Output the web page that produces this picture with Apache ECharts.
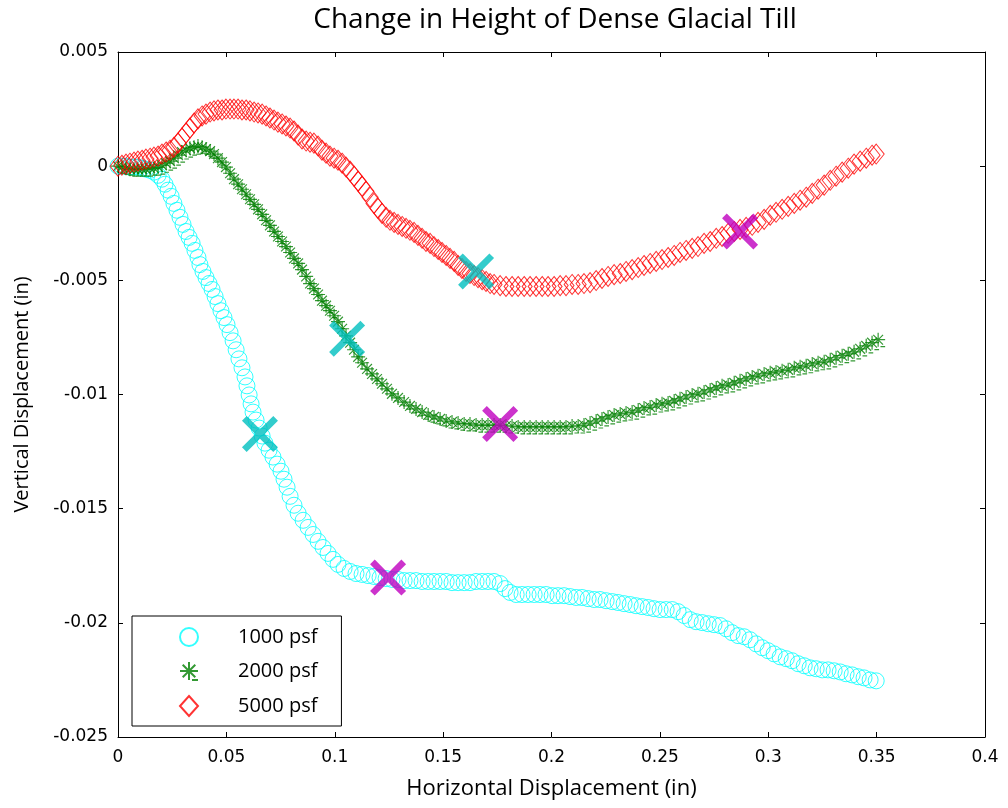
<!DOCTYPE html>
<html>
<head>
<meta charset="utf-8">
<script src="https://cdn.jsdelivr.net/npm/echarts@6/dist/echarts.min.js"></script>
<style>
html,body{margin:0;padding:0;background:#fff;}
#chart{width:1008px;height:808px;}
</style>
</head>
<body>
<div id="chart"></div>
<script>
// ---------- data ----------
const titleText = 'Change in Height of Dense Glacial Till';
const xAxisName = 'Horizontal Displacement (in)';
const yAxisName = 'Vertical Displacement (in)';
const seriesNames = ['1000 psf', '2000 psf', '5000 psf'];

const xTickLabels = ['0', '0.05', '0.1', '0.15', '0.2', '0.25', '0.3', '0.35', '0.4'];
const yTickLabels = ['-0.025', '-0.02', '-0.015', '-0.01', '-0.005', '0', '0.005'];

const x1000 = [0,0.0018,0.0037,0.0055,0.0074,0.0092,0.0111,0.0129,0.0148,0.0166,0.0185,0.0203,0.0217,0.0231,0.0245,0.0258,0.0272,0.0286,0.0300,0.0314,0.0328,0.0342,0.0355,0.0369,0.0378,0.0392,0.0406,0.0420,0.0434,0.0448,0.0461,0.0475,0.0489,0.0503,0.0517,0.0531,0.0545,0.0558,0.0572,0.0586,0.0595,0.0605,0.0614,0.0623,0.0637,0.0651,0.0665,0.0678,0.0697,0.0715,0.0734,0.0752,0.0766,0.0780,0.0794,0.0812,0.0831,0.0854,0.0877,0.0900,0.0923,0.0946,0.0969,0.0992,0.1015,0.1043,0.1071,0.1098,0.1126,0.1154,0.1181,0.1209,0.1237,0.1264,0.1292,0.1320,0.1347,0.1375,0.1403,0.1431,0.1458,0.1486,0.1514,0.1541,0.1569,0.1597,0.1624,0.1652,0.1680,0.1707,0.1735,0.1763,0.1786,0.1809,0.1837,0.1864,0.1892,0.1920,0.1947,0.1975,0.2003,0.2030,0.2058,0.2086,0.2114,0.2141,0.2169,0.2197,0.2224,0.2252,0.2280,0.2307,0.2335,0.2363,0.2390,0.2418,0.2446,0.2473,0.2501,0.2529,0.2557,0.2584,0.2612,0.2640,0.2667,0.2695,0.2723,0.2750,0.2778,0.2806,0.2833,0.2861,0.2889,0.2916,0.2944,0.2972,0.2999,0.3027,0.3055,0.3083,0.3110,0.3138,0.3166,0.3193,0.3221,0.3249,0.3276,0.3304,0.3332,0.3359,0.3387,0.3415,0.3442,0.3470,0.3498];
const y1000 = [0,0,0,-0.00004,-0.00004,-0.00004,-0.00009,-0.00013,-0.00018,-0.00026,-0.0004,-0.00057,-0.00079,-0.00105,-0.00132,-0.00163,-0.00193,-0.00224,-0.00255,-0.00286,-0.00312,-0.00338,-0.00369,-0.0040,-0.00431,-0.00461,-0.00488,-0.00514,-0.0054,-0.00571,-0.00602,-0.00633,-0.00663,-0.00694,-0.00729,-0.00765,-0.00804,-0.00844,-0.00883,-0.00923,-0.00962,-0.01002,-0.01041,-0.01077,-0.01112,-0.01147,-0.01182,-0.01213,-0.01244,-0.01274,-0.01305,-0.01336,-0.01371,-0.01406,-0.01446,-0.01485,-0.0152,-0.01551,-0.01582,-0.01613,-0.01643,-0.0167,-0.01696,-0.01722,-0.01744,-0.01762,-0.01775,-0.01784,-0.01788,-0.01793,-0.01797,-0.01802,-0.01806,-0.0181,-0.0181,-0.01815,-0.01815,-0.01815,-0.01819,-0.01819,-0.01819,-0.01819,-0.01819,-0.01824,-0.01824,-0.01824,-0.01824,-0.01819,-0.01819,-0.01819,-0.01819,-0.01828,-0.0185,-0.01867,-0.01876,-0.01876,-0.01876,-0.01876,-0.01876,-0.01876,-0.01881,-0.01881,-0.01881,-0.01885,-0.01889,-0.01889,-0.01894,-0.01898,-0.01898,-0.01903,-0.01907,-0.01911,-0.01916,-0.0192,-0.01925,-0.01929,-0.01933,-0.01938,-0.01942,-0.01942,-0.01942,-0.01951,-0.01968,-0.01986,-0.01995,-0.01999,-0.02004,-0.02008,-0.02012,-0.02026,-0.02043,-0.02056,-0.02061,-0.02074,-0.02092,-0.02109,-0.02122,-0.02136,-0.02149,-0.02157,-0.02166,-0.02179,-0.02188,-0.02197,-0.02201,-0.02206,-0.02206,-0.0221,-0.02215,-0.02223,-0.02228,-0.02236,-0.02241,-0.0225,-0.02254];

const x2000 = [0,0.0018,0.0037,0.0055,0.0074,0.0092,0.0111,0.0129,0.0148,0.0166,0.0185,0.0203,0.0222,0.0240,0.0258,0.0277,0.0295,0.0314,0.0332,0.0351,0.0369,0.0388,0.0406,0.0425,0.0443,0.0461,0.0480,0.0498,0.0517,0.0535,0.0554,0.0572,0.0591,0.0609,0.0628,0.0646,0.0665,0.0683,0.0701,0.0720,0.0738,0.0757,0.0775,0.0794,0.0812,0.0831,0.0849,0.0868,0.0886,0.0904,0.0923,0.0941,0.0960,0.0978,0.0997,0.1015,0.1034,0.1052,0.1071,0.1089,0.1108,0.1126,0.1149,0.1172,0.1195,0.1218,0.1241,0.1264,0.1292,0.1320,0.1347,0.1375,0.1403,0.1431,0.1458,0.1486,0.1514,0.1541,0.1569,0.1597,0.1624,0.1652,0.1680,0.1707,0.1735,0.1763,0.1790,0.1818,0.1846,0.1874,0.1901,0.1929,0.1957,0.1984,0.2012,0.2040,0.2067,0.2095,0.2123,0.2150,0.2178,0.2206,0.2233,0.2261,0.2289,0.2317,0.2344,0.2372,0.2400,0.2427,0.2455,0.2483,0.2510,0.2538,0.2566,0.2593,0.2621,0.2649,0.2676,0.2704,0.2732,0.2760,0.2787,0.2815,0.2843,0.2870,0.2898,0.2926,0.2953,0.2981,0.3009,0.3036,0.3064,0.3092,0.3120,0.3147,0.3175,0.3203,0.3230,0.3258,0.3286,0.3313,0.3341,0.3369,0.3396,0.3424,0.3452,0.3479,0.3507];
const y2000 = [0,-0.00004,-0.00009,-0.00013,-0.00013,-0.00013,-0.00013,-0.00013,-0.00009,-0.00009,-0.00004,0.00004,0.00013,0.00022,0.00035,0.00048,0.00062,0.0007,0.00079,0.00083,0.00088,0.00083,0.00075,0.00066,0.00053,0.00035,0.00018,-0.00004,-0.00031,-0.00057,-0.00079,-0.00101,-0.00123,-0.00145,-0.00167,-0.00189,-0.00211,-0.00237,-0.00259,-0.00286,-0.00308,-0.0033,-0.00352,-0.00378,-0.00404,-0.00426,-0.00453,-0.00483,-0.00514,-0.00536,-0.00562,-0.00589,-0.00611,-0.00633,-0.00655,-0.00681,-0.00712,-0.00743,-0.00773,-0.00804,-0.00835,-0.00861,-0.00888,-0.0091,-0.00932,-0.00953,-0.00975,-0.00997,-0.01015,-0.01033,-0.0105,-0.01063,-0.01077,-0.0109,-0.01098,-0.01107,-0.01116,-0.0112,-0.01125,-0.01129,-0.01129,-0.01134,-0.01134,-0.01134,-0.01134,-0.01134,-0.01138,-0.01138,-0.01142,-0.01142,-0.01142,-0.01142,-0.01142,-0.01142,-0.01142,-0.01142,-0.01142,-0.01138,-0.01138,-0.01134,-0.01125,-0.01116,-0.01107,-0.01098,-0.0109,-0.01085,-0.01081,-0.01077,-0.01068,-0.01059,-0.01055,-0.01046,-0.01041,-0.01037,-0.01028,-0.01019,-0.01011,-0.01002,-0.00997,-0.00989,-0.0098,-0.00971,-0.00962,-0.00958,-0.00949,-0.0094,-0.00932,-0.00923,-0.00918,-0.0091,-0.00905,-0.00901,-0.00896,-0.00892,-0.00883,-0.00879,-0.00874,-0.00866,-0.00861,-0.00857,-0.00848,-0.00839,-0.0083,-0.00822,-0.00813,-0.008,-0.00787,-0.00773,-0.0076];

const x5000 = [0,0.0018,0.0037,0.0055,0.0074,0.0092,0.0111,0.0129,0.0148,0.0166,0.0185,0.0203,0.0222,0.0240,0.0258,0.0277,0.0295,0.0314,0.0332,0.0351,0.0369,0.0388,0.0406,0.0425,0.0443,0.0461,0.0480,0.0498,0.0517,0.0535,0.0554,0.0572,0.0591,0.0609,0.0628,0.0646,0.0665,0.0683,0.0701,0.0720,0.0738,0.0757,0.0775,0.0794,0.0812,0.0831,0.0849,0.0868,0.0886,0.0904,0.0923,0.0941,0.0960,0.0978,0.0997,0.1015,0.1034,0.1052,0.1071,0.1089,0.1108,0.1126,0.1144,0.1163,0.1181,0.1200,0.1218,0.1237,0.1255,0.1274,0.1292,0.1311,0.1329,0.1347,0.1366,0.1384,0.1403,0.1421,0.1440,0.1458,0.1477,0.1495,0.1514,0.1532,0.1551,0.1569,0.1587,0.1606,0.1624,0.1643,0.1661,0.1680,0.1698,0.1717,0.1735,0.1763,0.1790,0.1818,0.1846,0.1874,0.1901,0.1929,0.1957,0.1984,0.2012,0.2040,0.2067,0.2095,0.2123,0.2150,0.2178,0.2206,0.2233,0.2261,0.2289,0.2317,0.2344,0.2372,0.2400,0.2427,0.2455,0.2483,0.2510,0.2538,0.2566,0.2593,0.2621,0.2649,0.2676,0.2704,0.2732,0.2760,0.2787,0.2815,0.2843,0.2870,0.2898,0.2926,0.2953,0.2981,0.3009,0.3036,0.3064,0.3092,0.3120,0.3147,0.3175,0.3203,0.3230,0.3258,0.3286,0.3313,0.3341,0.3369,0.3396,0.3424,0.3452,0.3479,0.3498];
const y5000 = [0,0.00004,0.00009,0.00013,0.00018,0.00022,0.00026,0.00031,0.00035,0.0004,0.00044,0.00053,0.00062,0.0007,0.00083,0.00101,0.00123,0.00145,0.00167,0.00189,0.00207,0.0022,0.00228,0.00237,0.00242,0.00246,0.00246,0.0025,0.0025,0.0025,0.0025,0.00246,0.00246,0.00242,0.00237,0.00233,0.00228,0.0022,0.00211,0.00202,0.00193,0.00185,0.00176,0.00167,0.00154,0.00136,0.00119,0.0011,0.00105,0.00101,0.00088,0.0007,0.00057,0.00044,0.00035,0.00026,0.00013,-0.00004,-0.00022,-0.00044,-0.00066,-0.00088,-0.0011,-0.00136,-0.00163,-0.00185,-0.00207,-0.00224,-0.00237,-0.00246,-0.00255,-0.00264,-0.00272,-0.00281,-0.0029,-0.00303,-0.00316,-0.0033,-0.00338,-0.00352,-0.00365,-0.00378,-0.00391,-0.00404,-0.00417,-0.00435,-0.00448,-0.00461,-0.0047,-0.00479,-0.00488,-0.00497,-0.00505,-0.00514,-0.00518,-0.00523,-0.00527,-0.00527,-0.00527,-0.00527,-0.00527,-0.00527,-0.00527,-0.00527,-0.00527,-0.00523,-0.00523,-0.00518,-0.00518,-0.00514,-0.0051,-0.00501,-0.00492,-0.00483,-0.00475,-0.0047,-0.00461,-0.00453,-0.00444,-0.00435,-0.00426,-0.00417,-0.00409,-0.004,-0.00391,-0.00378,-0.00369,-0.0036,-0.00352,-0.00338,-0.0033,-0.00316,-0.00308,-0.00294,-0.00286,-0.00277,-0.00268,-0.00259,-0.00246,-0.00233,-0.00215,-0.00202,-0.00189,-0.00176,-0.00163,-0.00149,-0.00136,-0.00119,-0.00101,-0.00083,-0.00062,-0.00044,-0.00026,-0.00009,0.00009,0.00022,0.00035,0.00048,0.00053];

// highlighted points (X markers)
const cyanMarkX = [0.0655, 0.1057, 0.1652];
const cyanMarkY = [-0.01173, -0.00756, -0.00461];
const magentaMarkX = [0.1246, 0.1763, 0.2870];
const magentaMarkY = [-0.01802, -0.01129, -0.00286];

// ---------- chart ----------
function pairs(xs, ys) {
  const n = Math.min(xs.length, ys.length);
  const out = [];
  for (let i = 0; i < n; i++) out.push([xs[i], ys[i]]);
  return out;
}
const X_MIN = 0, X_MAX = 0.4, X_INT = 0.05;
const Y_MIN = -0.025, Y_MAX = 0.005, Y_INT = 0.005;
const labelFont = '"DejaVu Sans"';
const textFont = '"Open Sans"';

const asteriskPath = 'path://M0,6 L12,6 M6,0 L6,12 M1.8,1.8 L10.2,10.2 M10.2,1.8 L1.8,10.2 M8,12 L12,12';
const crossPath = 'path://M0,0.13 L0.13,0 L0.5,0.37 L0.87,0 L1,0.13 L0.63,0.5 L1,0.87 L0.87,1 L0.5,0.63 L0.13,1 L0,0.87 L0.37,0.5 Z';

const tickCommon = {show: true, inside: true, length: 5, lineStyle: {color: '#000', width: 1}};
const lineCommon = {show: true, onZero: false, lineStyle: {color: '#000', width: 1}};

const chart = echarts.init(document.getElementById('chart'), null, {renderer: 'canvas'});
chart.setOption({
  backgroundColor: '#fff',
  animation: false,
  title: {
    text: titleText,
    left: 550, top: 1, textAlign: 'center',
    textStyle: {fontFamily: textFont, fontSize: 28, fontWeight: 'normal', color: '#000'}
  },
  grid: {left: 118, right: 23, top: 52, bottom: 71, containLabel: false},
  legend: {
    data: seriesNames,
    orient: 'vertical',
    left: 132, top: 616,
    padding: [11, 24, 9, 47],
    itemWidth: 18, itemHeight: 20, itemGap: 14,
    backgroundColor: '#fff', borderColor: '#000', borderWidth: 1,
    textStyle: {fontFamily: textFont, fontSize: 20, color: '#000', padding: [0, 0, 0, 35]}
  },
  xAxis: [{
    type: 'value', position: 'bottom', min: X_MIN, max: X_MAX, interval: X_INT,
    name: xAxisName, nameLocation: 'middle', nameGap: 41,
    nameTextStyle: {fontFamily: textFont, fontSize: 22, color: '#000'},
    axisLine: lineCommon, axisTick: tickCommon, splitLine: {show: false},
    axisLabel: {margin: 12, fontFamily: labelFont, fontSize: 17, color: '#000',
      formatter: v => xTickLabels[Math.round((v - X_MIN) / X_INT)]}
  }, {
    type: 'value', position: 'top', min: X_MIN, max: X_MAX, interval: X_INT,
    axisLine: lineCommon, axisTick: tickCommon, splitLine: {show: false}, axisLabel: {show: false}
  }],
  yAxis: [{
    type: 'value', position: 'left', min: Y_MIN, max: Y_MAX, interval: Y_INT,
    name: yAxisName, nameLocation: 'middle', nameGap: 86,
    nameTextStyle: {fontFamily: textFont, fontSize: 20, color: '#000'},
    axisLine: lineCommon, axisTick: tickCommon, splitLine: {show: false},
    axisLabel: {margin: 10, fontFamily: labelFont, fontSize: 17, color: '#000',
      formatter: v => yTickLabels[Math.round((v - Y_MIN) / Y_INT)]}
  }, {
    type: 'value', position: 'right', min: Y_MIN, max: Y_MAX, interval: Y_INT,
    axisLine: lineCommon, axisTick: tickCommon, splitLine: {show: false}, axisLabel: {show: false}
  }],
  series: [{
    name: seriesNames[0], type: 'scatter', data: pairs(x1000, y1000),
    symbol: 'circle', symbolSize: 16,
    itemStyle: {color: 'rgba(0,0,0,0)', borderColor: '#00FFFF', borderWidth: 1}
  }, {
    name: seriesNames[1], type: 'scatter', data: pairs(x2000, y2000),
    symbol: asteriskPath, symbolSize: 14,
    itemStyle: {color: 'rgba(0,0,0,0)', borderColor: '#008000', borderWidth: 1.2}
  }, {
    name: seriesNames[2], type: 'scatter', data: pairs(x5000, y5000),
    symbol: 'diamond', symbolSize: [16, 20],
    itemStyle: {color: 'rgba(0,0,0,0)', borderColor: '#FF0000', borderWidth: 1}
  }, {
    name: 'cyanMarks', type: 'scatter', data: pairs(cyanMarkX, cyanMarkY),
    symbol: crossPath, symbolSize: 36, z: 5,
    itemStyle: {color: '#00BFBF'}
  }, {
    name: 'magentaMarks', type: 'scatter', data: pairs(magentaMarkX, magentaMarkY),
    symbol: crossPath, symbolSize: 36, z: 5,
    itemStyle: {color: '#BF00BF'}
  }]
});
</script>
</body>
</html>
